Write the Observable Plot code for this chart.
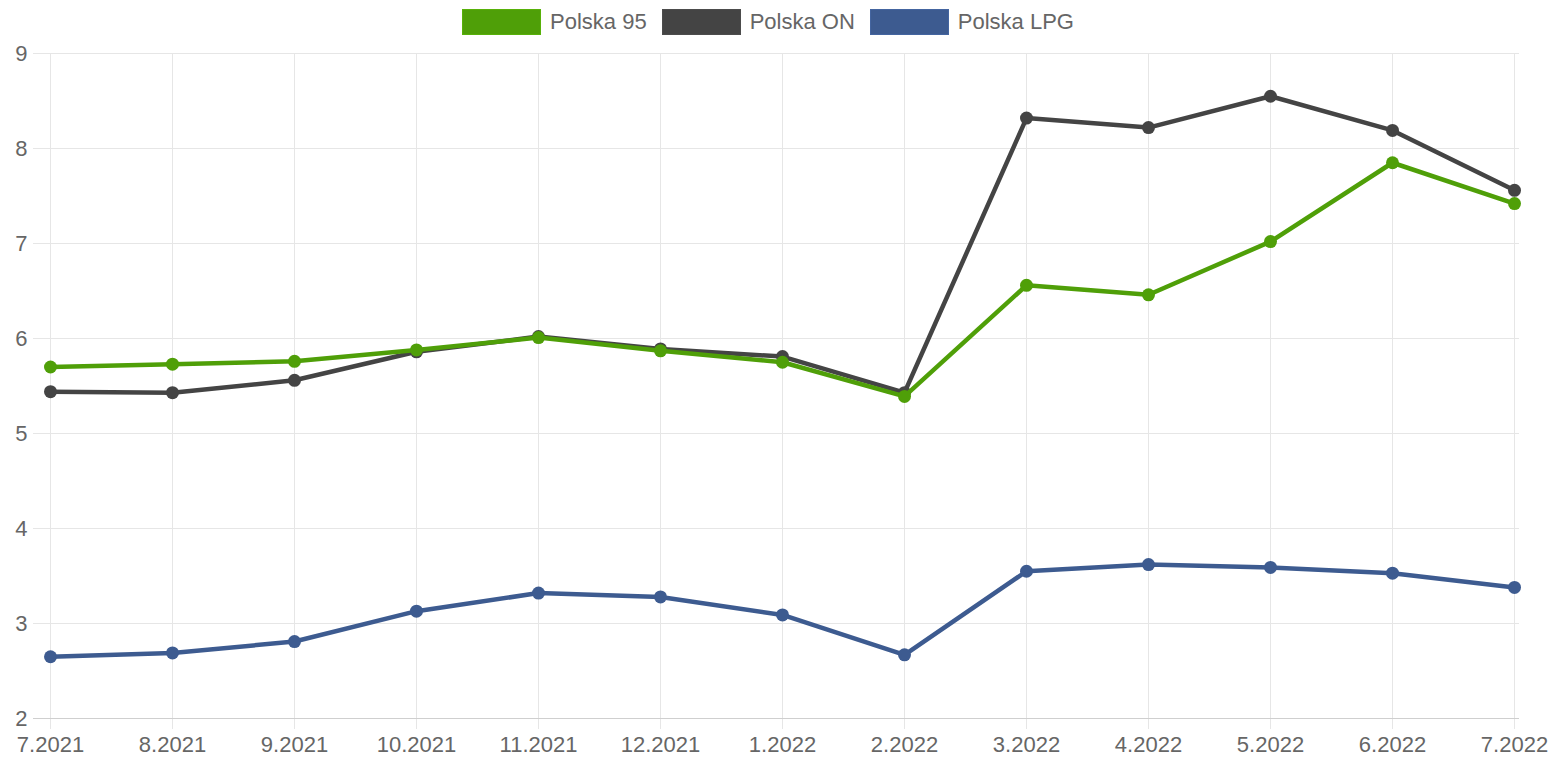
<!DOCTYPE html>
<html>
<head>
<meta charset="utf-8">
<script src="https://cdn.jsdelivr.net/npm/d3@7"></script>
<script src="https://cdn.jsdelivr.net/npm/@observablehq/plot@0.6"></script>
<style>
  html, body { margin: 0; padding: 0; background: #fff; }
  body { width: 1560px; height: 758px; overflow: hidden; font-family: "Liberation Sans", Arial, Helvetica, sans-serif; }
  #legend { height: 40px; width: 1536px; display: flex; justify-content: center; align-items: center; gap: 15px; color: #666; font-size: 22px; padding-top: 3px; box-sizing: border-box; }
  .item { display: flex; align-items: center; gap: 9px; }
  .box { width: 79px; height: 26px; box-sizing: border-box; }
  #chart svg { display: block; }
</style>
</head>
<body>
<div id="legend"></div>
<div id="chart"></div>
<script>
const months = ["7.2021","8.2021","9.2021","10.2021","11.2021","12.2021","1.2022","2.2022","3.2022","4.2022","5.2022","6.2022","7.2022"];
const polska95 = [5.70, 5.73, 5.76, 5.88, 6.01, 5.87, 5.75, 5.39, 6.56, 6.46, 7.02, 7.85, 7.42];
const polskaON = [5.44, 5.43, 5.56, 5.86, 6.02, 5.89, 5.81, 5.43, 8.32, 8.22, 8.55, 8.19, 7.56];
const polskaLPG = [2.65, 2.69, 2.81, 3.13, 3.32, 3.28, 3.09, 2.67, 3.55, 3.62, 3.59, 3.53, 3.38];
const yTicks = [2, 3, 4, 5, 6, 7, 8, 9];
const seriesNames = ["Polska 95", "Polska ON", "Polska LPG"];
const seriesColors = ["#4f9f08", "#444444", "#3d5b90"];

const seriesValues = [polska95, polskaON, polskaLPG];
// Draw order: last dataset first so that the first one ends up on top
const drawOrder = [2, 1, 0];

const legend = document.getElementById("legend");
seriesNames.forEach((name, i) => {
  const it = document.createElement("div");
  it.className = "item";
  const b = document.createElement("div");
  b.className = "box";
  b.style.background = seriesColors[i];
  b.style.border = "1px solid " + d3.color(seriesColors[i]).brighter(0.3);
  const t = document.createElement("span");
  t.textContent = name;
  it.appendChild(b); it.appendChild(t);
  legend.appendChild(it);
});

const marks = [
  Plot.ruleY(yTicks, {y: d => d, stroke: "#e6e6e6", insetLeft: -11}),
  Plot.ruleX(months, {x: d => d, y1: 9, y2: 2, stroke: "#e6e6e6", insetBottom: -11}),
  Plot.ruleY([2], {stroke: "#cfcfcf", insetLeft: -11}),
];
for (const i of drawOrder) {
  const data = months.map((m, j) => ({month: m, value: seriesValues[i][j]}));
  marks.push(Plot.line(data, {x: "month", y: "value", stroke: seriesColors[i], strokeWidth: 4.5, strokeLinejoin: "round"}));
  marks.push(Plot.dot(data, {x: "month", y: "value", fill: seriesColors[i], r: 6.5}));
}

const chart = Plot.plot({
  width: 1560,
  height: 718,
  marginTop: 13,
  marginBottom: 40,
  marginLeft: 44,
  marginRight: 41,
  style: {fontFamily: '"Liberation Sans", Arial, Helvetica, sans-serif', fontSize: "22px", color: "#666", background: "#fff", overflow: "visible"},
  x: {type: "point", domain: months, padding: 0, tickSize: 0, tickPadding: 18, label: null},
  y: {domain: [2, 9], ticks: yTicks, tickFormat: d => String(d), tickSize: 0, tickPadding: 17, label: null},
  marks
});
document.getElementById("chart").appendChild(chart);
</script>
</body>
</html>
